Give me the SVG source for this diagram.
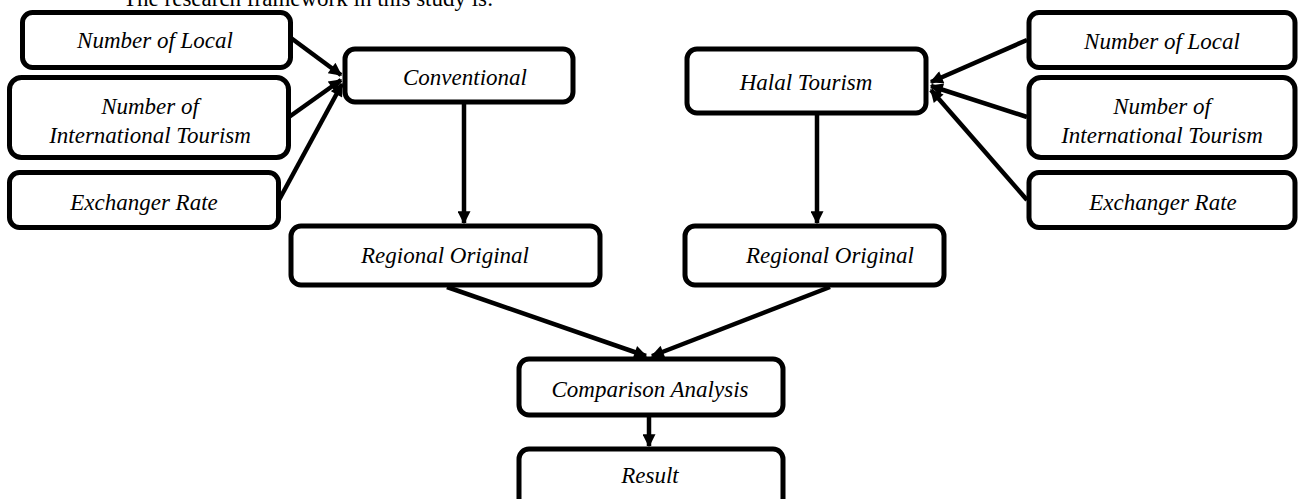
<svg xmlns="http://www.w3.org/2000/svg" width="1298" height="499" viewBox="0 0 1298 499">
<style>
.box{fill:#fff;stroke:#000;stroke-width:5}
.conn{stroke:#000;stroke-width:4.5;fill:none;marker-end:url(#arr)}
</style>
<defs>
<marker id="arr" viewBox="0 0 10 10" refX="9" refY="5" markerWidth="15" markerHeight="13" markerUnits="userSpaceOnUse" orient="auto">
<path d="M0,0 L10,5 L0,10 z" fill="#000"/>
</marker>
</defs>
<rect width="1298" height="499" fill="#fff"/>
<text x="123" y="6" font-family="Liberation Serif" font-size="23" fill="#000">The research framework in this study is:</text>
<g id="connectors">
<line class="conn" x1="291" y1="38" x2="341" y2="75"/>
<line class="conn" x1="289" y1="117" x2="341" y2="80"/>
<line class="conn" x1="279" y1="200" x2="342" y2="84"/>
<line class="conn" x1="1027" y1="40" x2="931" y2="82"/>
<line class="conn" x1="1027" y1="117" x2="931" y2="86"/>
<line class="conn" x1="1027" y1="200" x2="931" y2="90"/>
<line class="conn" x1="464" y1="102" x2="464" y2="223"/>
<line class="conn" x1="817" y1="113" x2="817" y2="223"/>
<line class="conn" x1="447" y1="287" x2="646" y2="356"/>
<line class="conn" x1="830" y1="287" x2="652" y2="356"/>
<line class="conn" x1="649" y1="417" x2="649" y2="446"/>
</g>
<g id="nodes" font-family="Liberation Serif" font-style="italic" font-size="23" text-anchor="middle" fill="#000">
<g id="n-local-l"><rect class="box" x="22.5" y="12.5" width="268" height="55" rx="10"/><text x="155" y="48">Number of Local</text></g>
<g id="n-intl-l"><rect class="box" x="9.5" y="77.5" width="279" height="80" rx="12"/><text x="150" y="114">Number of</text><text x="150" y="143">International Tourism</text></g>
<g id="n-exch-l"><rect class="box" x="9.5" y="172.5" width="269" height="55" rx="10"/><text x="144" y="210">Exchanger Rate</text></g>
<g id="n-conv"><rect class="box" x="345" y="49" width="228" height="53" rx="10"/><text x="465" y="85">Conventional</text></g>
<g id="n-halal"><rect class="box" x="687" y="49" width="239" height="64" rx="10"/><text x="806" y="90">Halal Tourism</text></g>
<g id="n-local-r"><rect class="box" x="1029" y="12.5" width="266" height="55" rx="10"/><text x="1162" y="49">Number of Local</text></g>
<g id="n-intl-r"><rect class="box" x="1029" y="77.5" width="266" height="80" rx="12"/><text x="1162" y="114">Number of</text><text x="1162" y="143">International Tourism</text></g>
<g id="n-exch-r"><rect class="box" x="1029" y="172.5" width="266" height="55" rx="10"/><text x="1163" y="210">Exchanger Rate</text></g>
<g id="n-reg-l"><rect class="box" x="291" y="226" width="309" height="59" rx="10"/><text x="445" y="263">Regional Original</text></g>
<g id="n-reg-r"><rect class="box" x="685" y="226" width="259" height="59" rx="10"/><text x="830" y="263">Regional Original</text></g>
<g id="n-comp"><rect class="box" x="519" y="359" width="264" height="56" rx="10"/><text x="650" y="397">Comparison Analysis</text></g>
<g id="n-result"><rect class="box" x="519" y="449" width="264" height="60" rx="10"/><text x="650" y="483">Result</text></g>
</g>
</svg>
